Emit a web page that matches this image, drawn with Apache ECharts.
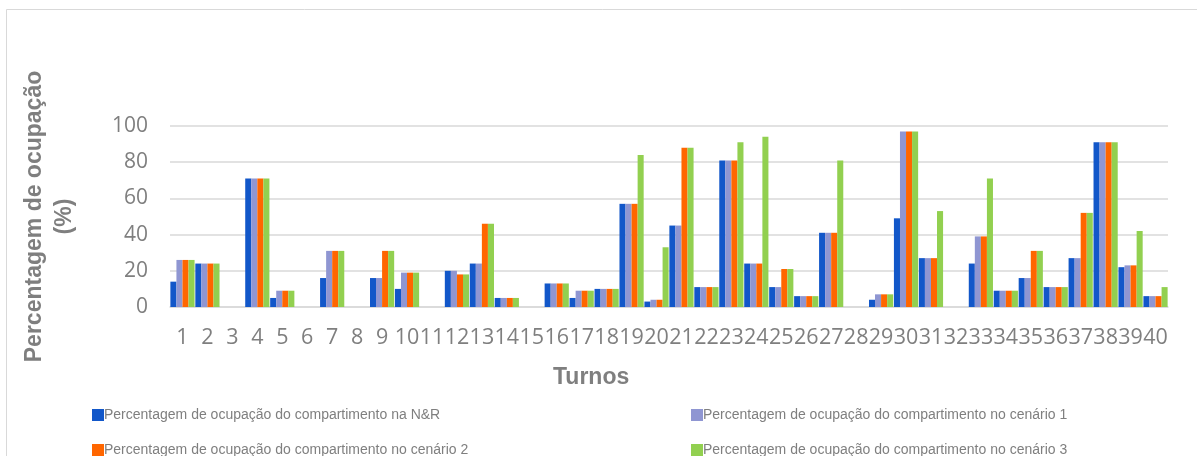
<!DOCTYPE html>
<html>
<head>
<meta charset="utf-8">
<script src="https://cdn.jsdelivr.net/npm/echarts@6/dist/echarts.min.js"></script>
<style>
  html, body { margin: 0; padding: 0; background: #ffffff; }
  #chart { width: 1197px; height: 456px; }
</style>
</head>
<body>
<div id="chart"></div>
<script>
// Turnos 1..40
const turnos = Array.from({ length: 40 }, (_, i) => String(i + 1));

// Percentagem de ocupação (%) por turno
const ocupacaoNR = [14, 24, 0, 71, 5, 0, 16, 0, 16, 10, 0, 20, 24, 5, 0, 13, 5, 10, 57, 3,
                    45, 11, 81, 24, 11, 6, 41, 0, 4, 49, 27, 0, 24, 9, 16, 11, 27, 91, 22, 6];
const ocupacaoCenario1 = [26, 24, 0, 71, 9, 0, 31, 0, 16, 19, 0, 20, 24, 5, 0, 13, 9, 10, 57, 4,
                          45, 11, 81, 24, 11, 6, 41, 0, 7, 97, 27, 0, 39, 9, 16, 11, 27, 91, 23, 6];
const ocupacaoCenario2 = [26, 24, 0, 71, 9, 0, 31, 0, 31, 19, 0, 18, 46, 5, 0, 13, 9, 10, 57, 4,
                          88, 11, 81, 24, 21, 6, 41, 0, 7, 97, 27, 0, 39, 9, 31, 11, 52, 91, 23, 6];
const ocupacaoCenario3 = [26, 24, 0, 71, 9, 0, 31, 0, 31, 19, 0, 18, 46, 5, 0, 13, 9, 10, 84, 33,
                          88, 11, 91, 94, 21, 6, 81, 0, 7, 97, 53, 0, 71, 9, 31, 11, 52, 91, 42, 11];

const yTicks = { min: 0, max: 100, interval: 20 };

const seriesNames = [
  'Percentagem de ocupação do compartimento na N&R',
  'Percentagem de ocupação do compartimento no cenário 1',
  'Percentagem de ocupação do compartimento no cenário 2',
  'Percentagem de ocupação do compartimento no cenário 3'
];
const seriesColors = ['#1257c9', '#8f96d2', '#ff6600', '#92d050'];
const seriesData = [ocupacaoNR, ocupacaoCenario1, ocupacaoCenario2, ocupacaoCenario3];

const gray = '#7f7f7f';
const legendPos = [
  { left: 92, top: 408 },
  { left: 691, top: 408 },
  { left: 92, top: 443 },
  { left: 691, top: 443 }
];

const chart = echarts.init(document.getElementById('chart'), null, { renderer: 'canvas' });

chart.setOption({
  animation: false,
  backgroundColor: '#ffffff',
  graphic: [{
    type: 'rect',
    shape: { x: 6.5, y: 9.5, width: 1400, height: 600 },
    style: { fill: 'none', stroke: '#d9d9d9', lineWidth: 1 },
    silent: true,
    z: -10
  }],
  title: {
    text: 'Turnos',
    left: 553,
    top: 366,
    padding: 0,
    textStyle: { fontFamily: 'Liberation Sans', fontWeight: 'bold', fontSize: 23, color: gray }
  },
  legend: seriesNames.map((name, i) => ({
    data: [name],
    left: legendPos[i].left,
    top: legendPos[i].top,
    padding: 0,
    icon: 'rect',
    itemWidth: 12,
    itemHeight: 12,
    selectedMode: false,
    textStyle: { fontFamily: 'Liberation Sans', fontSize: 14, color: gray, padding: [0, 0, 0, -5] }
  })),
  grid: { left: 170, right: 29, top: 126, height: 181, containLabel: false },
  xAxis: {
    type: 'category',
    data: turnos,
    axisLine: { lineStyle: { color: '#d9d9d9', width: 1.5 } },
    axisTick: { show: false },
    axisLabel: { interval: 0, margin: 20, fontFamily: 'Open Sans', fontSize: 21.5, color: gray }
  },
  yAxis: {
    type: 'value',
    min: yTicks.min,
    max: yTicks.max,
    interval: yTicks.interval,
    name: 'Percentagem de ocupação\n(%)',
    nameLocation: 'middle',
    nameRotate: 90,
    nameGap: 90,
    nameTextStyle: { fontFamily: 'Liberation Sans', fontWeight: 'bold', fontSize: 23, lineHeight: 30, color: gray, align: 'center' },
    axisLine: { show: false },
    axisTick: { show: false },
    axisLabel: { margin: 22, fontFamily: 'Open Sans', fontSize: 21, color: gray },
    splitLine: { lineStyle: { color: '#d9d9d9', width: 1.5 } }
  },
  series: seriesNames.map((name, i) => ({
    name,
    type: 'bar',
    data: seriesData[i],
    barGap: '0%',
    barCategoryGap: '3%',
    itemStyle: { color: seriesColors[i] }
  }))
});
</script>
</body>
</html>
